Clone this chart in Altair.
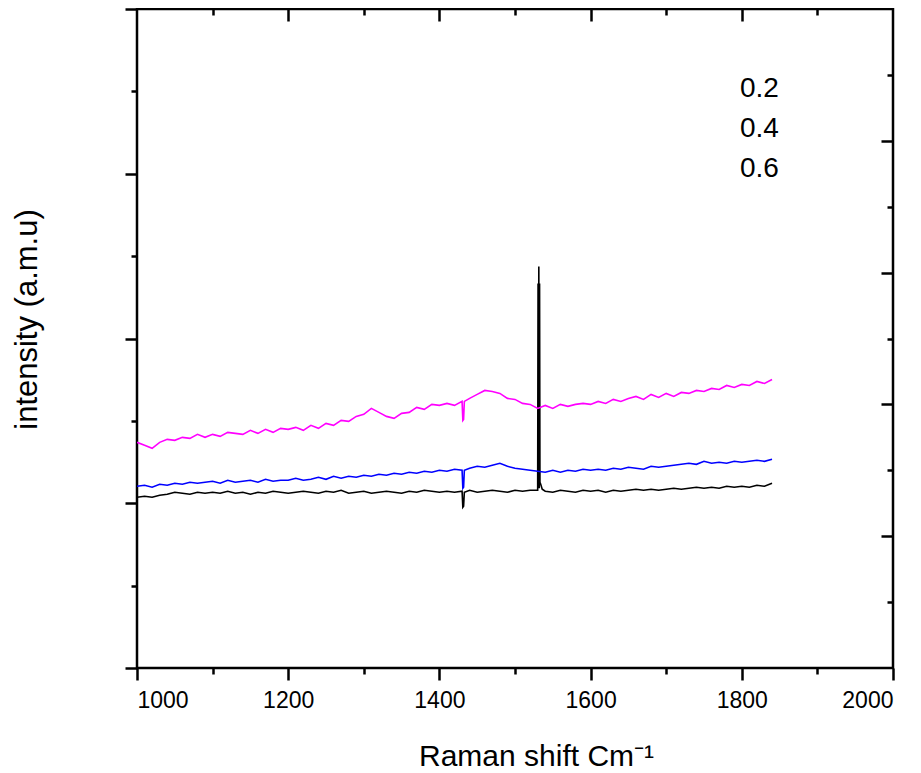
import altair as alt
import pandas as pd

# ---------------- data ----------------
X_GRID = list(range(1000, 1850, 10))  # Raman shift sample positions, 1000..1840

MAGENTA_06 = [
    452, 446, 440, 452, 458, 456, 462, 460, 468, 462,
    468, 464, 472, 470, 468, 476, 470, 478, 472, 480,
    478, 482, 476, 486, 480, 490, 486, 496, 494, 504,
    508, 520, 512, 504, 500, 510, 512, 522, 518, 528,
    526, 530, 526, 534, 540, 548, 556, 554, 550, 540,
    538, 530, 528, 520, 526, 520, 528, 524, 528, 530,
    528, 534, 530, 538, 534, 540, 544, 538, 548, 542,
    550, 544, 552, 550, 556, 554, 560, 558, 566, 562,
    568, 566, 574, 570, 578,
]
BLUE_04 = [
    364, 366, 362, 368, 366, 370, 368, 372, 370, 372,
    374, 370, 376, 372, 374, 376, 372, 378, 374, 376,
    376, 380, 376, 378, 382, 378, 384, 380, 384, 382,
    386, 384, 388, 386, 390, 388, 392, 390, 394, 392,
    396, 394, 398, 396, 400, 404, 402, 406, 410, 404,
    400, 398, 396, 394, 392, 396, 392, 396, 394, 398,
    396, 398, 396, 400, 398, 402, 400, 398, 404, 402,
    404, 406, 408, 410, 408, 414, 410, 412, 410, 414,
    412, 414, 416, 414, 418,
]
BLACK_02 = [
    342, 344, 342, 346, 348, 352, 350, 348, 352, 350,
    352, 350, 354, 350, 352, 348, 352, 350, 354, 352,
    350, 352, 354, 352, 350, 354, 352, 356, 350, 352,
    354, 350, 352, 354, 352, 350, 354, 352, 356, 354,
    352, 354, 352, 354, 356, 352, 354, 356, 354, 352,
    356, 354, 356, 356, 354, 352, 356, 354, 352, 356,
    354, 356, 352, 356, 354, 356, 358, 356, 358, 356,
    358, 360, 358, 360, 362, 360, 362, 360, 364, 362,
    364, 362, 366, 364, 370,
]

# sharp features: common dip near 1431 and the black spike near 1531
MAGENTA_EXTRA_X = [1431, 1432, 1433]
MAGENTA_EXTRA_Y = [496, 498, 534]
BLUE_EXTRA_X = [1431, 1432, 1433]
BLUE_EXTRA_Y = [360, 362, 396]
BLACK_EXTRA_X = [1431, 1432, 1433, 1530.5, 1531, 1531.5, 1532, 1532.5, 1533, 1534, 1536]
BLACK_EXTRA_Y = [322, 324, 352, 770, 360, 804, 360, 770, 372, 368, 358]

LEGEND_LABELS = ["0.2", "0.4", "0.6"]
COLORS = ["#000000", "#0000ff", "#ff00ff"]

X_MAJOR = [1000, 1200, 1400, 1600, 1800, 2000]
X_MINOR = [1100, 1300, 1500, 1700, 1900]
X_TOP_MAJOR = [1200, 1400, 1600, 1800]
Y_LEFT_MAJOR = [0, 330, 660, 990, 1320]
Y_LEFT_MINOR = [165, 495, 825, 1155]
Y_RIGHT_MAJOR = [200, 400, 600, 800]
Y_RIGHT_MINOR = [100, 300, 500, 700, 900]

# ---------------- table ----------------
rows = []
for label, xs_extra, ys_extra, base_vals in [
    ("0.2", BLACK_EXTRA_X, BLACK_EXTRA_Y, BLACK_02),
    ("0.4", BLUE_EXTRA_X, BLUE_EXTRA_Y, BLUE_04),
    ("0.6", MAGENTA_EXTRA_X, MAGENTA_EXTRA_Y, MAGENTA_06),
]:
    for xv, yv in zip(X_GRID, base_vals):
        rows.append({"shift": xv, "intensity": yv, "sample": label})
    for xv, yv in zip(xs_extra, ys_extra):
        rows.append({"shift": xv, "intensity": yv, "sample": label})
df = pd.DataFrame(rows).sort_values(["sample", "shift"]).reset_index(drop=True)

FONT = "Liberation Sans"
x_scale = alt.Scale(domain=[1000, 2000], nice=False, zero=False)
y_left = alt.Scale(domain=[0, 1320], nice=False, zero=False)
y_right = alt.Scale(domain=[0, 1000], nice=False, zero=False)

common_axis = dict(domain=False, grid=False, tickColor="black", tickWidth=2.5)

base = alt.Chart(df)

lines = base.mark_line(strokeWidth=1.6, clip=True).encode(
    x=alt.X(
        "shift:Q",
        scale=x_scale,
        axis=alt.Axis(
            orient="bottom", values=X_MAJOR, format="d", tickSize=12, labelFontSize=23,
            labelFont=FONT, labelColor="black", labelPadding=9,
            title="Raman shift Cm⁻¹", titleFont=FONT, titleFontSize=30,
            titleFontWeight="normal", titleColor="black",
            titleX=399, titleY=97, titleAlign="center", titleBaseline="alphabetic",
            **common_axis,
        ),
    ),
    y=alt.Y(
        "intensity:Q",
        scale=y_left,
        axis=alt.Axis(
            orient="left", values=Y_LEFT_MAJOR, tickSize=12, labels=False,
            title="intensity (a.m.u)", titleFont=FONT, titleFontSize=31,
            titleFontWeight="normal", titleColor="black", titleAngle=270,
            titleX=-101, titleY=310, titleAlign="center", titleBaseline="alphabetic",
            **common_axis,
        ),
    ),
    color=alt.Color(
        "sample:N",
        scale=alt.Scale(domain=LEGEND_LABELS, range=COLORS),
        legend=alt.Legend(
            orient="none", legendX=575, legendY=66, title=None,
            symbolSize=0, symbolOpacity=0, symbolStrokeWidth=0,
            labelFont=FONT, labelFontSize=28, labelColor="black",
            labelOffset=0, rowPadding=12, padding=0,
        ),
    ),
)

minor_lb = base.mark_point(opacity=0).encode(
    x=alt.X("shift:Q", scale=x_scale,
            axis=alt.Axis(orient="bottom", values=X_MINOR, tickSize=6, labels=False,
                          title=None, **common_axis)),
    y=alt.Y("intensity:Q", scale=y_left,
            axis=alt.Axis(orient="left", values=Y_LEFT_MINOR, tickSize=6, labels=False,
                          title=None, **common_axis)),
)

major_tr = base.mark_point(opacity=0).encode(
    x=alt.X("shift:Q", scale=x_scale,
            axis=alt.Axis(orient="top", values=X_TOP_MAJOR, tickSize=12, offset=-12,
                          labels=False, title=None, **common_axis)),
    y=alt.Y("intensity:Q", scale=y_right,
            axis=alt.Axis(orient="right", values=Y_RIGHT_MAJOR, tickSize=12, offset=-12,
                          labels=False, title=None, **common_axis)),
)

minor_tr = base.mark_point(opacity=0).encode(
    x=alt.X("shift:Q", scale=x_scale,
            axis=alt.Axis(orient="top", values=X_MINOR, tickSize=6, offset=-6,
                          labels=False, title=None, **common_axis)),
    y=alt.Y("intensity:Q", scale=y_right,
            axis=alt.Axis(orient="right", values=Y_RIGHT_MINOR, tickSize=6, offset=-6,
                          labels=False, title=None, **common_axis)),
)

chart = (
    alt.layer(lines, minor_lb, major_tr, minor_tr)
    .resolve_scale(y="independent")
    .resolve_axis(x="independent", y="independent")
    .properties(
        width=756, height=659,
        autosize=alt.AutoSizeParams(type="none"),
        padding={"left": 129, "top": 1, "right": 20, "bottom": 104},
        background="white",
    )
    .configure_view(stroke="black", strokeWidth=2.5)
)

chart.save("out.html", embed_options={"renderer": "svg", "actions": False})
